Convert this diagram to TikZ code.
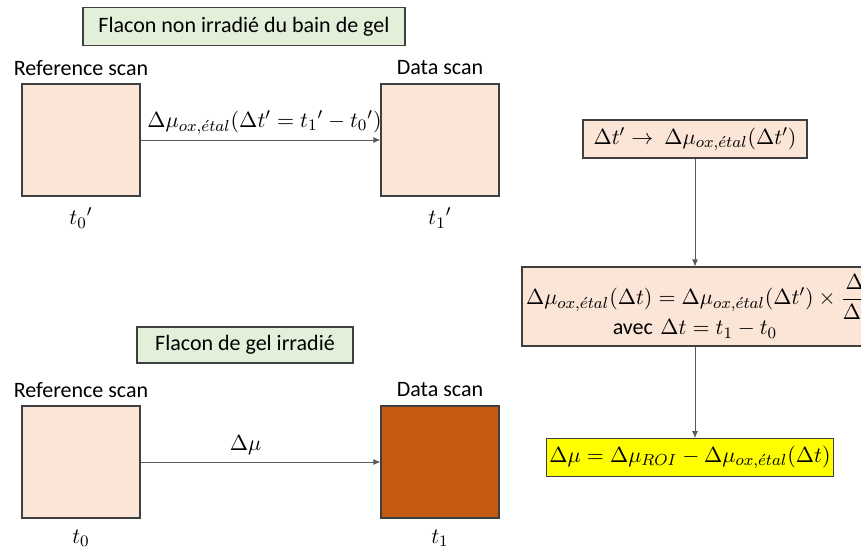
\documentclass[tikz,border=0pt,11pt]{standalone}
\usepackage{amsmath}
\usepackage{fontspec}
\setmainfont{Carlito}
\usepackage{tikz}
\usetikzlibrary{arrows.meta,positioning}
\definecolor{peau}{HTML}{FBE5D6}
\definecolor{vert}{HTML}{E2F0D9}
\definecolor{brique}{HTML}{C55A11}
\definecolor{jaune}{HTML}{FFFF00}
\definecolor{bord}{HTML}{3F3F3F}
\definecolor{gris}{HTML}{595959}

\begin{document}
\begin{tikzpicture}[x=0.5pt,y=-0.5pt,font=\fontsize{11}{13.5}\selectfont,
    scanbox/.style={draw=bord,line width=0.6pt,minimum width=59pt,minimum height=56pt,inner sep=0pt},
    titlebox/.style={draw=bord,fill=vert,line width=0.6pt,minimum height=19pt},
    formbox/.style={draw=bord,fill=peau,line width=0.6pt},
    fleche/.style={-{Latex[length=3.5pt,width=3pt]},draw=gris,line width=0.4pt}]
  \clip (0,0) rectangle (861,551);
  % Flacon non irradie
  \node[titlebox,minimum width=161pt] (titre1) at (244,26.5) {Flacon non irradié du bain de gel};
  \node (ref1lab) at (81,68) {Reference scan};
  \node (data1lab) at (440,68) {Data scan};
  \node[scanbox,fill=peau] (ref1) at (81,140) {};
  \node[scanbox,fill=peau] (data1) at (440,140) {};
  \node (t0p) at (81,218) {${t_0}'$};
  \node (t1p) at (440,218) {${t_1}'$};
  \draw[fleche] (ref1) -- (data1) node[midway,above=-1pt,xshift=2pt] {$\Delta\mu_{ox,\acute{e}tal}(\Delta t' = {t_1}' - {t_0}')$};
  % Correction
  \node[formbox,minimum width=112pt,minimum height=19pt] (dtp) at (695,139) {$\Delta t' \rightarrow\ \Delta\mu_{ox,\acute{e}tal}(\Delta t')$};
  \node[formbox,minimum height=39.5pt,text width=169pt,inner xsep=2pt,inner ysep=1pt,align=center] (calc) at (695,306.5)
    {\mbox{$\Delta\mu_{ox,\acute{e}tal}(\Delta t) = \Delta\mu_{ox,\acute{e}tal}(\Delta t') \times \dfrac{\Delta t}{\Delta t'}$}\\[-1pt] \mbox{avec $\Delta t = t_1 - t_0$}};
  \node[formbox,fill=jaune,minimum width=140pt,minimum height=14.5pt,inner xsep=1.5pt] (dmu) at (690,457.5) {$\Delta\mu = \Delta\mu_{ROI} - \Delta\mu_{ox,\acute{e}tal}(\Delta t)$};
  \draw[fleche] (dtp) -- (calc);
  \draw[fleche] (calc) -- (calc.south |- dmu.north);
  % Flacon irradie
  \node[titlebox,minimum width=108pt,minimum height=18pt] (titre2) at (245,345) {Flacon de gel irradié};
  \node (ref2lab) at (81,390) {Reference scan};
  \node (data2lab) at (440,390) {Data scan};
  \node[scanbox,fill=peau] (ref2) at (81,462) {};
  \node[scanbox,fill=brique] (data2) at (440,462) {};
  \node (t0) at (81,538) {$t_0$};
  \node (t1) at (440,538) {$t_1$};
  \draw[fleche] (ref2) -- (data2) node[midway,above,xshift=-7.5pt] {$\Delta\mu$};
\end{tikzpicture}
\end{document}
